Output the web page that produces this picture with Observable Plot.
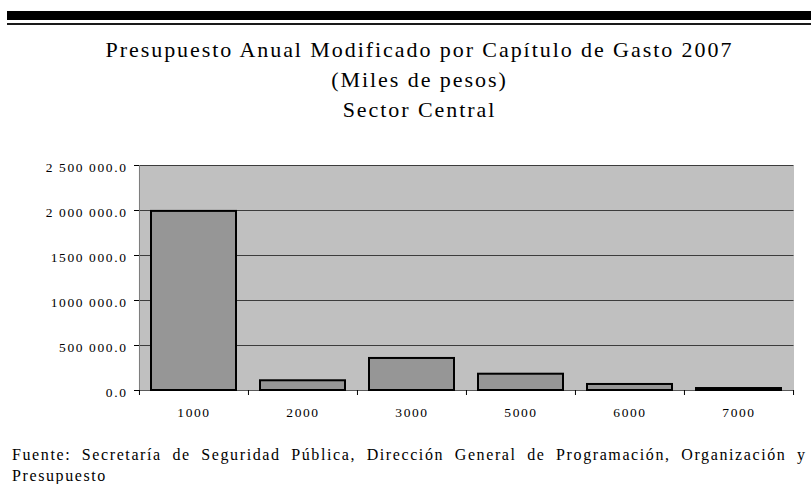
<!DOCTYPE html>
<html>
<head>
<meta charset="utf-8">
<script src="https://cdn.jsdelivr.net/npm/d3@7"></script>
<script src="https://cdn.jsdelivr.net/npm/@observablehq/plot@0.6"></script>
<style>
  body { margin: 0; background: #fff; }
  #wrap { position: relative; width: 811px; height: 484px; overflow: hidden; font-family: "Liberation Serif", "Times New Roman", serif; color: #000; }
  .t { position: absolute; white-space: nowrap; line-height: 1; }
  .rule { position: absolute; }
  #wrap svg { position: absolute; left: 0; top: 0; }
</style>
</head>
<body>
<div id="wrap"></div>
<script>
const categories = ["1000", "2000", "3000", "5000", "6000", "7000"];
const values = [1990000, 108000, 356000, 181000, 67000, 22000];
const yTicks = [0, 500000, 1000000, 1500000, 2000000, 2500000];
const yTickLabels = ["0.0", "500 000.0", "1000 000.0", "1500 000.0", "2 000 000.0", "2 500 000.0"];
const titleLines = [
  "Presupuesto Anual Modificado por Capítulo de Gasto 2007",
  "(Miles de pesos)",
  "Sector Central"
];
const captionLines = [
  "Fuente: Secretaría de Seguridad Pública, Dirección General de Programación, Organización y",
  "Presupuesto"
];

const wrap = document.getElementById("wrap");
const ctx = document.createElement("canvas").getContext("2d");
function measure(text, size) {
  ctx.font = `${size}px "Liberation Serif"`;
  return ctx.measureText(text).width;
}

// top double rule
const r1 = document.createElement("div");
r1.className = "rule";
Object.assign(r1.style, { left: "7px", top: "11px", width: "804px", height: "9px", background: "#000" });
wrap.appendChild(r1);
const r2 = document.createElement("div");
r2.className = "rule";
Object.assign(r2.style, { left: "7px", top: "23px", width: "804px", height: "2px", background: "#1a1a1a" });
wrap.appendChild(r2);

// title
const titleSize = 22;
const titleLS = (627 - measure(titleLines[0], titleSize)) / (titleLines[0].length - 1);
const titleBaselines = [57, 87, 117];
titleLines.forEach((txt, i) => {
  const d = document.createElement("div");
  d.className = "t";
  d.textContent = txt;
  Object.assign(d.style, {
    fontSize: titleSize + "px",
    letterSpacing: titleLS + "px",
    left: "0px",
    width: (418.5 * 2) + "px",
    textAlign: "center",
    paddingLeft: titleLS + "px",
    boxSizing: "border-box",
    top: (titleBaselines[i] - 0.8375 * titleSize) + "px"
  });
  wrap.appendChild(d);
});

// caption: letter spacing plus a little extra word spacing to fill the line
const capSize = 16;
const capLS = 1.6;
const cap0 = captionLines[0];
const nSpaces = cap0.split(" ").length - 1;
const capWS = Math.max(0, (793 - measure(cap0, capSize) - capLS * (cap0.length - 1)) / nSpaces);
const capBaselines = [460, 481];
captionLines.forEach((txt, i) => {
  const d = document.createElement("div");
  d.className = "t";
  d.textContent = txt;
  Object.assign(d.style, {
    fontSize: capSize + "px",
    letterSpacing: capLS + "px",
    wordSpacing: capWS + "px",
    left: "12px",
    top: (capBaselines[i] - 0.8375 * capSize) + "px"
  });
  wrap.appendChild(d);
});

// chart
const data = categories.map((c, i) => ({ cat: c, value: values[i] }));
const W = 811, H = 484, mL = 139, mR = 17.5, mT = 165, mB = 94;
const step = (W - mR - mL) / categories.length;

const chart = Plot.plot({
  width: W,
  height: H,
  marginLeft: mL,
  marginRight: mR,
  marginTop: mT,
  marginBottom: mB,
  style: {
    fontFamily: "'Liberation Serif', 'Times New Roman', serif",
    fontSize: "13px",
    color: "#000",
    background: "transparent",
    letterSpacing: "1.6px"
  },
  x: { domain: categories, paddingInner: 0.22, paddingOuter: 0.11, axis: null, label: null },
  y: { domain: [0, 2500000], axis: null, label: null },
  marks: [
    Plot.frame({ fill: "#c0c0c0", stroke: "none" }),
    Plot.ruleY(yTicks.slice(1), { stroke: "#3c3c3c", strokeWidth: 1 }),
    Plot.ruleY([0], { stroke: "#5a5a5a", strokeWidth: 1 }),
    Plot.ruleX([categories[0]], { dx: -step / 2, stroke: "#7a7a7a", strokeWidth: 1 }),
    Plot.barY(data, { x: "cat", y: "value", fill: "#969696", stroke: "#000", strokeWidth: 2 }),
    Plot.axisY({ ticks: yTicks, tickSize: 5, tickFormat: () => "", stroke: "#000", label: null }),
    Plot.axisY({ ticks: yTicks, tickSize: 0, tickPadding: 12, dy: 2, fontSize: 13.5,
                 tickFormat: d => yTickLabels[yTicks.indexOf(d)], label: null }),
    Plot.axisX({ ticks: categories, tickSize: 5, tickFormat: () => "", dx: -step / 2, stroke: "#000", label: null }),
    Plot.axisX({ ticks: [categories[categories.length - 1]], tickSize: 5, tickFormat: () => "", dx: step / 2, stroke: "#000", label: null }),
    Plot.axisX({ ticks: categories, tickSize: 0, tickPadding: 17, fontSize: 13.5, label: null })
  ]
});
wrap.appendChild(chart);
</script>
</body>
</html>
